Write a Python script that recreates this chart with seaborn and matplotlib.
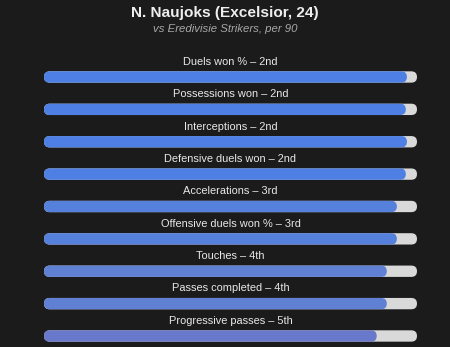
import matplotlib
matplotlib.use("Agg")
import matplotlib.pyplot as plt
import seaborn as sns
import pandas as pd
from matplotlib.patches import FancyBboxPatch

metrics = ["Duels won %", "Possessions won", "Interceptions", "Defensive duels won",
           "Accelerations", "Offensive duels won %", "Touches", "Passes completed",
           "Progressive passes"]
ranks = [2, 2, 2, 2, 3, 3, 4, 4, 5]
rank_labels = ["2nd", "2nd", "2nd", "2nd", "3rd", "3rd", "4th", "4th", "5th"]
percentiles = [0.973, 0.970, 0.973, 0.970, 0.946, 0.946, 0.919, 0.919, 0.892]

title = "N. Naujoks (Excelsior, 24)"
subtitle = "vs Eredivisie Strikers, per 90"

BG = "#1b1b1b"
TRACK = "#d9d9d9"
rank_colors = {2: "#4d7fe4", 3: "#5580dc", 4: "#5f80d3", 5: "#6878cb"}

df = pd.DataFrame({"metric": metrics, "pct": percentiles, "full": [1.0] * len(metrics)})

W, H = 450, 347
fig = plt.figure(figsize=(W / 100, H / 100), dpi=100, facecolor=BG)
x0, x1 = 44, 417
ytop_px, ybot_px = 60.8, 345.7
ax = fig.add_axes([x0 / W, 1 - ybot_px / H, (x1 - x0) / W, (ybot_px - ytop_px) / H])
ax.set_facecolor(BG)

bar_h = 0.35
sns.barplot(data=df, x="full", y="metric", orient="h", color=TRACK, width=bar_h,
            saturation=1, ax=ax)
sns.barplot(data=df, x="pct", y="metric", orient="h", palette=[rank_colors[r] for r in ranks],
            hue="metric", legend=False, width=bar_h, saturation=1, ax=ax)
ax.set_xlim(0, 1)
ax.set_ylim(8.3, -0.5)

# convert bars to rounded pills
px_per_x = (x1 - x0)
px_per_y = (ybot_px - ytop_px) / 8.8
aspect = px_per_x / px_per_y
patches = list(ax.patches)
for p in patches:
    x, y = p.get_x(), p.get_y()
    w, h = p.get_width(), p.get_height()
    fc = p.get_facecolor()
    p.remove()
    r = (h * px_per_y / 2) / px_per_x
    fb = FancyBboxPatch((x, y), w, h, boxstyle=f"round,pad=0,rounding_size={r}",
                        mutation_aspect=aspect, facecolor=fc, edgecolor="none")
    ax.add_patch(fb)

for i, (m, rl) in enumerate(zip(metrics, rank_labels)):
    ax.text(0.5, i - 0.47, f"{m} \u2013 {rl}", ha="center", va="center",
            color="#e8e8e8", fontsize=7.9, family="Liberation Sans")

ax.set_axis_off()

fig.text(0.5, 1 - 13 / H, title, ha="center", va="center", color="#eeeeee",
         fontsize=11.1, fontweight="bold", family="Liberation Sans")
fig.text(0.5, 1 - 29 / H, subtitle, ha="center", va="center", color="#a8a8a8",
         fontsize=8.2, fontstyle="italic", family="Liberation Sans")

fig.savefig("out.png", dpi=100, facecolor=BG)
